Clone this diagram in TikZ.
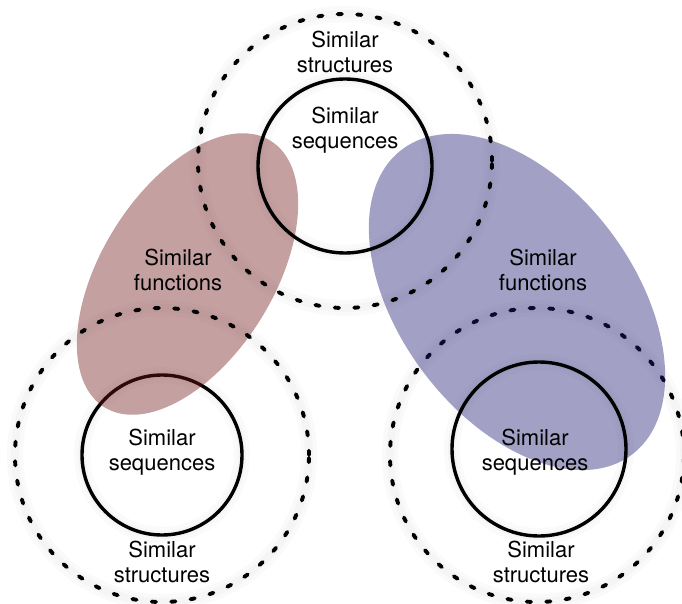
\documentclass[tikz,border=0pt]{standalone}
\usepackage{fontspec}
\setmainfont{TeX Gyre Heros}
\usetikzlibrary{shapes.geometric}
\definecolor{redfill}{RGB}{112,24,24}
\definecolor{bluefill}{RGB}{29,24,112}
\begin{document}
\begin{tikzpicture}[x=1pt,y=1pt,
  lbl/.style={align=center,font=\fontsize{22}{25}\selectfont,inner sep=0pt},
  seqcirc/.style={circle,draw=black,line width=3.4pt,inner sep=0pt},
  strcirc/.style={circle,draw=black,line width=3.9pt,dash pattern=on 4.3pt off 15.2pt,line cap=round,inner sep=0pt},
  halo/.style={circle,draw=black,draw opacity=0.018,line width=16pt,inner sep=0pt},
  halob/.style={circle,draw=black,draw opacity=0.02,line width=8pt,inner sep=0pt},
  funcell/.style={ellipse,inner sep=0pt,fill opacity=0.41,draw=none}]
\useasboundingbox (0,0) rectangle (682,-604);
% soft glows
\foreach \cx/\cy/\d in {345/-161/294,345/-166/174,162/-455/294,162/-455/160,537/-455/294,539/-449/174}{
  \node[halo,minimum size=\d pt] at (\cx,\cy) {};
  \node[halob,minimum size=\d pt] at (\cx,\cy) {};
}
% layer below the function regions
\node[strcirc,minimum size=294pt] (brstr) at (537,-455) {};
\node[seqcirc,minimum size=160pt] (blseq) at (162,-455) {};
% function regions
\node[funcell,fill=redfill,minimum width=314pt,minimum height=172pt,rotate=58] (redf) at (187.5,-274) {};
\node[funcell,fill=bluefill,minimum width=382pt,minimum height=234pt,rotate=-53] (bluef) at (517,-302) {};
% layer above
\node[strcirc,minimum size=294pt] (topstr) at (345,-161) {};
\node[seqcirc,minimum size=174pt] (topseq) at (345,-166) {};
\node[strcirc,minimum size=294pt] (blstr) at (162,-455) {};
\node[seqcirc,minimum size=174pt] (brseq) at (539,-449) {};
% labels
\node[lbl] (t1) at (345,-52) {Similar\\structures};
\node[lbl] (t2) at (345,-130) {Similar\\sequences};
\node[lbl] (t3) at (178,-270) {Similar\\functions};
\node[lbl] (t4) at (543,-270) {Similar\\functions};
\node[lbl] (t5) at (162,-452) {Similar\\sequences};
\node[lbl] (t6) at (162,-562) {Similar\\structures};
\node[lbl] (t7) at (535,-452) {Similar\\sequences};
\node[lbl] (t8) at (541,-562) {Similar\\structures};
\end{tikzpicture}
\end{document}
